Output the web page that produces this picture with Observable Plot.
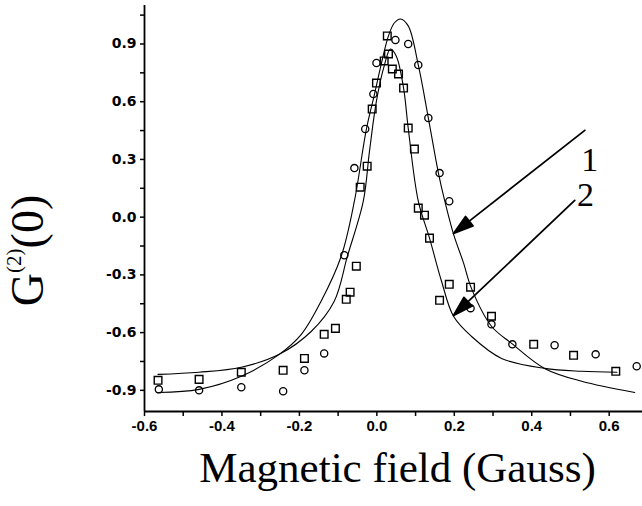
<!DOCTYPE html>
<html><head><meta charset="utf-8">
<script src="https://cdn.jsdelivr.net/npm/d3@7"></script>
<script src="https://cdn.jsdelivr.net/npm/@observablehq/plot@0.6"></script>
<style>
html,body{margin:0;padding:0;background:#fff;}
</style></head><body><div id="chart"></div>
<script>
// Series 1 (circles) measured points
const circlesX = [-0.563,-0.459,-0.350,-0.242,-0.187,-0.136,-0.084,-0.058,-0.030,-0.009,-0.001,0.048,0.081,0.107,0.133,0.162,0.187,0.242,0.296,0.350,0.459,0.565,0.671];
const circlesY = [-0.895,-0.900,-0.884,-0.905,-0.796,-0.708,-0.198,0.255,0.458,0.640,0.801,0.921,0.900,0.791,0.515,0.229,0.083,-0.473,-0.557,-0.661,-0.666,-0.713,-0.775];
// Series 2 (squares) measured points
const squaresX = [-0.565,-0.459,-0.350,-0.242,-0.187,-0.136,-0.107,-0.079,-0.069,-0.053,-0.043,-0.025,-0.012,-0.001,0.019,0.030,0.027,0.040,0.056,0.069,0.081,0.097,0.107,0.123,0.136,0.162,0.187,0.242,0.296,0.405,0.508,0.617];
const squaresY = [-0.848,-0.843,-0.806,-0.796,-0.734,-0.609,-0.578,-0.427,-0.390,-0.255,0.156,0.265,0.562,0.697,0.812,0.848,0.942,0.770,0.744,0.671,0.463,0.354,0.047,0.010,-0.109,-0.432,-0.349,-0.364,-0.515,-0.661,-0.718,-0.801];
// Fit curve 1 (wide)
const curve1X = [-0.565,-0.459,-0.350,-0.252,-0.195,-0.144,-0.092,-0.058,-0.027,-0.006,0.012,0.030,0.045,0.061,0.081,0.107,0.133,0.159,0.175,0.198,0.224,0.244,0.296,0.348,0.433,0.529,0.666];
const curve1Y = [-0.911,-0.895,-0.827,-0.713,-0.609,-0.437,-0.203,0.083,0.458,0.640,0.801,0.942,1.009,1.030,0.994,0.791,0.515,0.229,0.087,-0.088,-0.239,-0.369,-0.567,-0.656,-0.786,-0.853,-0.911];
// Fit curve 2 (narrow)
const curve2X = [-0.565,-0.459,-0.350,-0.252,-0.169,-0.110,-0.076,-0.035,-0.019,-0.001,0.019,0.035,0.050,0.069,0.081,0.107,0.136,0.167,0.198,0.244,0.322,0.433,0.529,0.620];
const curve2Y = [-0.817,-0.806,-0.780,-0.713,-0.593,-0.437,-0.203,0.083,0.343,0.604,0.786,0.874,0.838,0.671,0.463,0.083,-0.109,-0.333,-0.515,-0.619,-0.734,-0.786,-0.801,-0.806];
// Annotation arrows and labels
const arrowLabels = ["1","2"];
const arrowStartX = [0.537, 0.511];
const arrowStartY = [0.451, 0.087];
const arrowTipX = [0.198, 0.198];
const arrowTipY = [-0.085, -0.511];
const labelX = [0.550, 0.539];
const labelY = [0.295, 0.113];
// Axes
const xDomain = [-0.6, 0.686];
const yDomain = [-1.01, 1.1];
const xTicks = [-0.6,-0.5,-0.4,-0.3,-0.2,-0.1,0,0.1,0.2,0.3,0.4,0.5,0.6];
const xTickLabels = [-0.6,-0.4,-0.2,0,0.2,0.4,0.6];
const yTicks = [-0.9,-0.75,-0.6,-0.45,-0.3,-0.15,0,0.15,0.3,0.45,0.6,0.75,0.9,1.05];
const yTickLabels = [-0.9,-0.6,-0.3,0,0.3,0.6,0.9];
const xTitle = "Magnetic field (Gauss)";
const yTitle = ["G", "(2)", "(0)"];
const yTitleCenter = -0.173;

const W = 642, H = 506, ML = 144, MR = 0, MT = 5, MB = 95;
const xLab = new Set(xTickLabels.map(d => d.toFixed(2)));
const yLab = new Set(yTickLabels.map(d => d.toFixed(2)));
const fmtX = d => xLab.has(d.toFixed(2)) ? d.toFixed(1).replace("-0.0","0.0") : "";
const fmtY = d => yLab.has(d.toFixed(2)) ? d.toFixed(1).replace("-0.0","0.0") : "";

const zip = (X, Y) => X.map((x, i) => ({x, y: Y[i]}));
const circles = zip(circlesX, circlesY);
const squares = zip(squaresX, squaresY);
const c1 = zip(curve1X, curve1Y);
const c2 = zip(curve2X, curve2Y);

// pixel geometry of arrows computed through scales
const xs = Plot.scale({x: {domain: xDomain, range: [ML, W - MR]}});
const ys = Plot.scale({y: {domain: yDomain, range: [H - MB, MT]}});
const arrows = arrowLabels.map((k, i) => {
  const x0 = xs.apply(arrowStartX[i]), y0 = ys.apply(arrowStartY[i]);
  const x1 = xs.apply(arrowTipX[i]), y1 = ys.apply(arrowTipY[i]);
  const dx = x1 - x0, dy = y1 - y0;
  return {x: arrowStartX[i], y: arrowStartY[i], len: Math.hypot(dx, dy), rot: Math.atan2(dx, -dy) * 180 / Math.PI};
});
const filledArrow = {
  draw(context, l) {
    const hl = 20, hw = 6;
    context.moveTo(0, 0);
    context.lineTo(0, -l + hl);
    context.moveTo(0, -l);
    context.lineTo(-hw, -l + hl);
    context.lineTo(hw, -l + hl);
    context.closePath();
  }
};

const plot = Plot.plot({
  width: W, height: H,
  marginLeft: ML, marginRight: MR, marginTop: MT, marginBottom: MB,
  style: {background: "#fff", color: "#000", overflow: "visible"},
  x: {domain: xDomain},
  y: {domain: yDomain},
  length: {type: "identity"},
  marks: [
    Plot.axisX({ticks: xTicks, tickFormat: fmtX, tickSize: 5, tickPadding: 4, strokeWidth: 1.5,
      fontFamily: "Liberation Sans", fontWeight: "bold", fontSize: 15, label: null}),
    Plot.axisY({ticks: yTicks, tickFormat: fmtY, tickSize: 4, tickPadding: 4, strokeWidth: 1.5,
      fontFamily: "DejaVu Sans", fontWeight: "bold", fontSize: 14, label: null}),
    Plot.ruleX([xDomain[0]], {stroke: "black", strokeWidth: 1.8}),
    Plot.ruleY([yDomain[0]], {stroke: "black", strokeWidth: 1.8}),
    Plot.line(c1, {x: "x", y: "y", stroke: "black", strokeWidth: 1.1, curve: "catmull-rom"}),
    Plot.line(c2, {x: "x", y: "y", stroke: "black", strokeWidth: 1.1, curve: "catmull-rom"}),
    Plot.dot(circles, {x: "x", y: "y", r: 3.6, symbol: "circle", stroke: "black", strokeWidth: 1.3, fill: "none"}),
    Plot.dot(squares, {x: "x", y: "y", r: 4.3, symbol: "square", stroke: "black", strokeWidth: 1.4, fill: "none"}),
    Plot.vector(arrows, {x: "x", y: "y", length: "len", rotate: "rot", anchor: "start", shape: filledArrow,
      stroke: "black", fill: "black", strokeWidth: 1.8}),
    Plot.text(arrowLabels, {x: (d, i) => labelX[i], y: (d, i) => labelY[i], text: d => d,
      fontFamily: "Liberation Serif", fontSize: 34, fill: "black"}),
    Plot.text([xTitle], {frameAnchor: "bottom", dx: 4, dy: 70, lineAnchor: "bottom",
      fontFamily: "Liberation Serif", fontSize: 43, fill: "black"}),
    Plot.text([yTitle.join("")], {y: [yTitleCenter], frameAnchor: "left", dx: -116, rotate: -90,
      textAnchor: "middle", lineAnchor: "middle",
      fontFamily: "Liberation Serif", fontSize: 46, fill: "black"})
  ]
});
document.getElementById("chart").appendChild(plot);

// superscript in the y title
const full = yTitle.join("");
const t = Array.from(plot.querySelectorAll("text")).find(e => e.textContent === full);
if (t) {
  const ns = "http://www.w3.org/2000/svg";
  t.textContent = "";
  const parts = [[yTitle[0], null, null], [yTitle[1], 21, -22], [yTitle[2], 46, 22]];
  for (const [s, fs, dy] of parts) {
    const sp = document.createElementNS(ns, "tspan");
    if (fs) sp.setAttribute("font-size", fs);
    if (dy) sp.setAttribute("dy", dy);
    sp.textContent = s;
    t.appendChild(sp);
  }
}
</script></body></html>
